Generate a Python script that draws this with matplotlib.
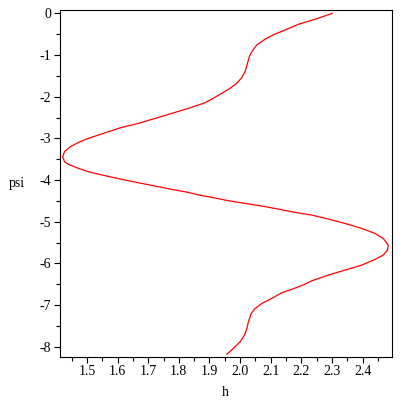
import numpy as np
import matplotlib.pyplot as plt
from matplotlib.ticker import MultipleLocator

# h values, psi from 0 down to -8.18
h = [2.301, 2.244, 2.190, 2.147, 2.114, 2.082, 2.054, 2.038, 2.030, 2.024,
     2.016, 2.005, 1.989, 1.967, 1.940, 1.918, 1.886, 1.831, 1.777, 1.723,
     1.668, 1.614, 1.560, 1.505, 1.473, 1.446, 1.427, 1.421, 1.427, 1.440,
     1.473, 1.505, 1.560, 1.614, 1.668, 1.723, 1.777, 1.831, 1.870, 1.908,
     1.962, 2.016, 2.071, 2.125, 2.179, 2.234, 2.288, 2.342, 2.397, 2.440,
     2.467, 2.483, 2.481, 2.467, 2.440, 2.397, 2.342, 2.288, 2.234, 2.210,
     2.168, 2.136, 2.103, 2.071, 2.049, 2.036, 2.027, 2.022, 2.014, 2.000,
     1.978, 1.957]
psi = [0.0, -0.143, -0.263, -0.400, -0.496, -0.616, -0.760, -0.921, -1.041, -1.199,
       -1.401, -1.545, -1.679, -1.799, -1.919, -2.015, -2.144, -2.280, -2.400, -2.520,
       -2.640, -2.736, -2.864, -3.000, -3.096, -3.200, -3.320, -3.440, -3.560, -3.624,
       -3.720, -3.800, -3.896, -3.984, -4.064, -4.144, -4.224, -4.296, -4.365, -4.415,
       -4.496, -4.559, -4.624, -4.696, -4.776, -4.840, -4.936, -5.040, -5.160, -5.280,
       -5.400, -5.560, -5.680, -5.800, -5.904, -6.040, -6.160, -6.280, -6.416, -6.503,
       -6.623, -6.704, -6.840, -6.960, -7.080, -7.200, -7.400, -7.560, -7.720, -7.880,
       -8.040, -8.176]

plt.rcParams['font.family'] = ['Liberation Serif', 'DejaVu Serif']
plt.rcParams['axes.unicode_minus'] = False

fig = plt.figure(figsize=(4, 4), dpi=100)
ax = fig.add_axes([0.149, 0.108, 0.831, 0.867])

ax.plot(h, psi, color='red', lw=0.9)

ax.set_xlim(1.411, 2.4955)
ax.set_ylim(-8.24, 0.08)

ax.xaxis.set_major_locator(MultipleLocator(0.1))
ax.xaxis.set_minor_locator(MultipleLocator(0.05))
ax.yaxis.set_major_locator(MultipleLocator(1))
ax.yaxis.set_minor_locator(MultipleLocator(0.5))
ax.tick_params(which='major', direction='out', length=4, width=0.8, labelsize=10, pad=2)
ax.tick_params(which='minor', direction='out', length=3, width=0.8)

for s in ax.spines.values():
    s.set_linewidth(0.8)

ax.set_xlabel('h', fontsize=10)
ax.xaxis.set_label_coords(0.5, -0.085)
ax.set_ylabel('psi', fontsize=10, rotation=0, ha='center', va='center')
ax.yaxis.set_label_coords(-0.128, 0.50)

fig.savefig('out.png', dpi=100)
